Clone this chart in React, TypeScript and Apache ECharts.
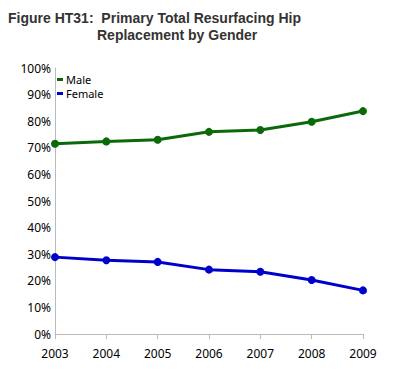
import React, { useEffect, useRef } from "react";
import * as echarts from "echarts";

const years = ["2003", "2004", "2005", "2006", "2007", "2008", "2009"];
const male = [71.5, 72.4, 73.0, 76.0, 76.7, 79.8, 83.8];
const female = [28.9, 27.7, 27.1, 24.2, 23.4, 20.3, 16.4];
const titleLine1 = "Figure HT31:  Primary Total Resurfacing Hip";
const titleLine2 = "Replacement by Gender";

export default function App() {
  const ref = useRef<HTMLDivElement>(null);
  useEffect(() => {
    if (!ref.current) return;
    const chart = echarts.init(ref.current, null, { renderer: "svg" });
    const labelFont = { fontFamily: "Noto Sans", fontSize: 11, color: "#000" };
    chart.setOption({
      animation: false,
      backgroundColor: "#fff",
      graphic: [
        {
          type: "text",
          left: 0,
          top: 3,
          style: {
            text: titleLine1,
            font: "bold 14px 'Liberation Sans'",
            fill: "#333",
          },
        },
        {
          type: "text",
          left: 89,
          top: 20,
          style: {
            text: titleLine2,
            font: "bold 14px 'Liberation Sans'",
            fill: "#333",
          },
        },
      ],
      legend: {
        orient: "vertical",
        left: 49,
        top: 66,
        itemWidth: 6,
        itemHeight: 3,
        itemGap: 3,
        padding: 0,
        icon: "rect",
        textStyle: { ...labelFont, lineHeight: 10, padding: [0, 0, 0, -2] },
        data: ["Male", "Female"],
      },
      grid: { left: 47, right: 31, top: 60, bottom: 40 },
      xAxis: {
        type: "category",
        data: years,
        boundaryGap: false,
        axisLine: { lineStyle: { color: "#bbb", width: 1 } },
        axisTick: { show: true, length: 5, lineStyle: { color: "#bbb" } },
        axisLabel: { ...labelFont, fontSize: 12, margin: 13 },
      },
      yAxis: {
        type: "value",
        min: 0,
        max: 100,
        interval: 10,
        axisLine: { show: true, lineStyle: { color: "#bbb", width: 1 } },
        axisTick: { show: false },
        splitLine: { show: false },
        axisLabel: { ...labelFont, fontSize: 12, margin: 4, formatter: "{value}%" },
      },
      series: [
        {
          name: "Male",
          type: "line",
          data: male,
          color: "#0a6a0a",
          lineStyle: { width: 3 },
          symbol: "circle",
          symbolSize: 8,
        },
        {
          name: "Female",
          type: "line",
          data: female,
          color: "#0000cc",
          lineStyle: { width: 3 },
          symbol: "circle",
          symbolSize: 8,
        },
      ],
    });
    return () => chart.dispose();
  }, []);
  return <div ref={ref} style={{ width: 386, height: 366 }} />;
}
